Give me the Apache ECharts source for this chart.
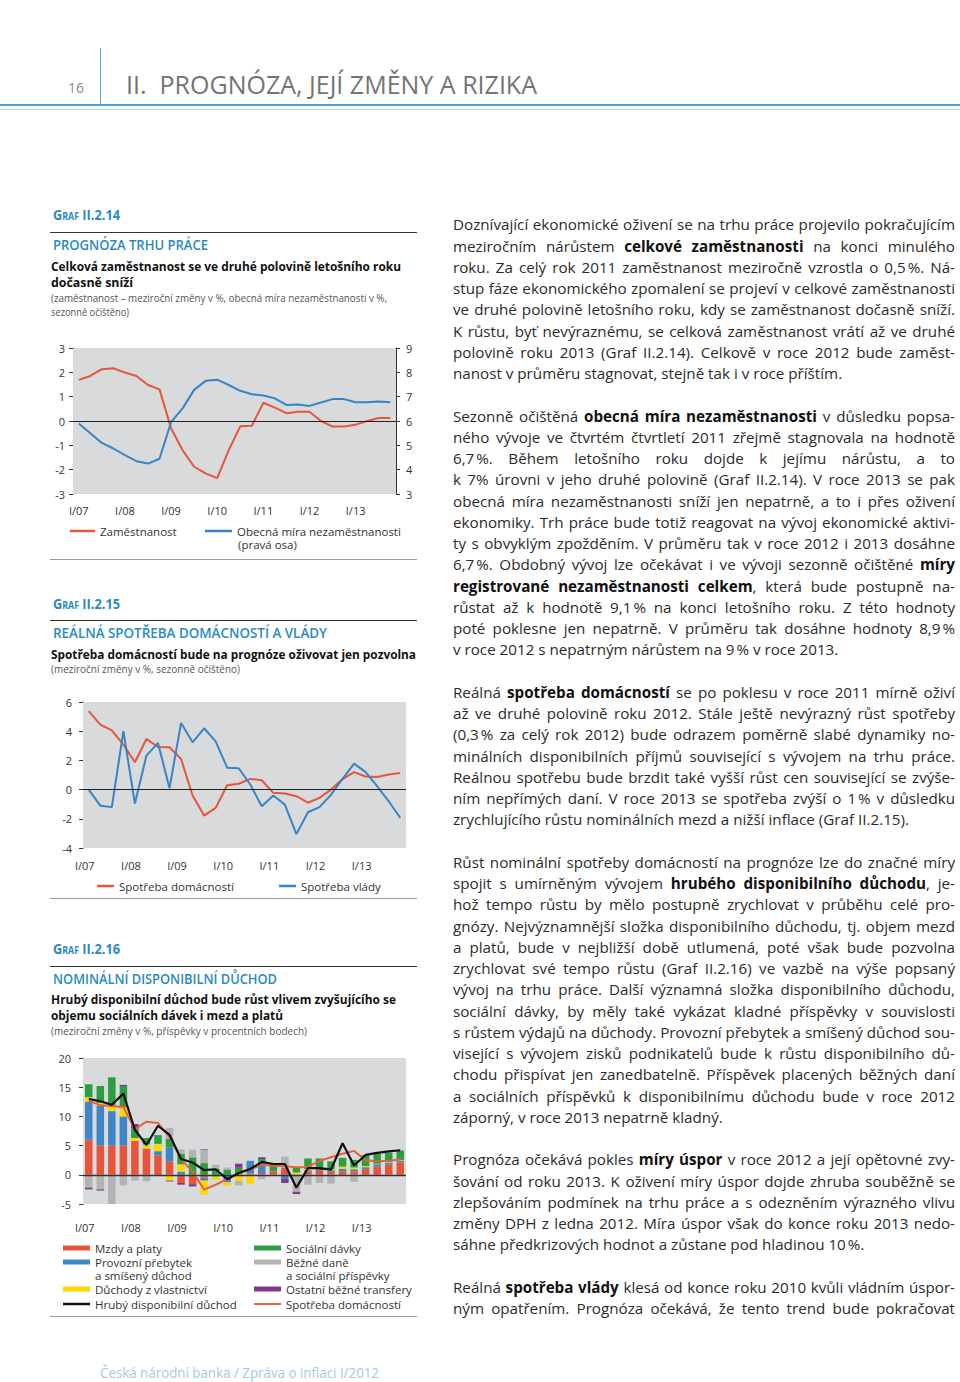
<!DOCTYPE html>
<html><head><meta charset="utf-8">
<script src="https://cdn.jsdelivr.net/npm/echarts@6/dist/echarts.min.js"></script>
<style>
html,body{margin:0;padding:0;background:#fff;}
#page{position:relative;width:960px;height:1382px;overflow:hidden;font-family:'Open Sans',sans-serif;color:#222;}
.t{position:absolute;white-space:nowrap;transform-origin:0 50%;}
.ln{position:absolute;left:453px;width:502px;line-height:21.25px;font-size:15.2px;color:#2b2b2b;text-align:justify;text-align-last:justify;}
.ln.last{text-align-last:left;}
.ln b{font-weight:700;color:#111;}
.chart{position:absolute;left:0;width:440px;}
</style></head>
<body>
<div id="page">
  <div id="c1" class="chart" style="top:330px;height:232px;"></div>
  <div id="c2" class="chart" style="top:690px;height:206px;"></div>
  <div id="c3" class="chart" style="top:1040px;height:274px;"></div>
</div>
<script>
// ---------------- DATA ----------------
const quarters = ['I/07','II/07','III/07','IV/07','I/08','II/08','III/08','IV/08','I/09','II/09','III/09','IV/09',
  'I/10','II/10','III/10','IV/10','I/11','II/11','III/11','IV/11','I/12','II/12','III/12','IV/12','I/13','II/13','III/13','IV/13'];
const forecastStart = 'IV/11';

// Graf II.2.14
const employment = [1.69,1.85,2.13,2.17,1.99,1.85,1.48,1.30,-0.30,-1.20,-1.88,-2.15,-2.35,-1.20,-0.22,-0.20,0.75,0.55,0.32,0.38,0.38,0.00,-0.23,-0.23,-0.15,0.00,0.12,0.12];
const unemployment = [5.90,5.50,5.10,4.87,4.60,4.35,4.25,4.45,5.95,6.52,7.28,7.65,7.70,7.48,7.24,7.10,7.05,6.93,6.66,6.68,6.62,6.76,6.90,6.90,6.77,6.77,6.80,6.77];

// Graf II.2.15
const householdCons = [5.37,4.45,4.06,3.08,1.87,3.47,2.92,2.90,2.10,-0.40,-1.78,-1.25,0.30,0.40,0.73,0.64,-0.22,-0.27,-0.45,-0.90,-0.57,0.00,0.72,1.20,0.90,0.87,1.03,1.14];
const governmentCons = [0.00,-1.10,-1.20,4.00,-0.95,2.33,3.20,0.10,4.56,3.24,4.20,3.30,1.50,1.46,0.35,-1.14,-0.40,-1.03,-3.05,-1.55,-1.20,-0.35,0.73,1.78,1.20,0.23,-0.80,-1.93];

// Graf II.2.16 (contributions, p.p.)
const wages     = [6.0,5.0,5.0,5.0,5.8,4.5,3.3,2.3,-1.4,-1.6,-0.5,0,0,0.3,0.2,0.3,0.6,1.2,0,0.6,0.8,0.55,0.6,0.6,1.0,1.4,1.75,2.1];
const surplus   = [6.5,6.8,5.9,5.0,0,0,0.75,2.35,0.55,0,-0.5,-0.3,-1.3,0,2.2,2.0,0,-0.7,-0.3,0.2,0.2,0.25,0.4,0.35,0.3,0.4,0.35,0.35];
const property  = [0.8,0.5,0.8,1.6,0.5,0.7,1.25,-1.0,1.25,0,-2.4,-0.6,-0.6,-1.1,-1.6,0,0,0,0.4,0.2,0.2,0.2,0.4,0.3,0.2,0.1,0.1,0.1];
const benefits  = [2.2,2.9,5.0,3.6,1.6,1.1,1.5,1.5,1.8,3.0,2.0,1.1,0.9,0.9,0,0.4,1.4,0,0.8,1.8,1.6,1.3,1.5,1.3,1.9,1.8,1.6,1.6];
const taxes     = [-2.2,-2.5,-5.0,-1.8,-1.0,-1.1,0,1.9,0.75,1.3,2.3,0.6,0.35,-0.7,0,-0.75,-0.2,1.9,-2.6,-1.7,-1.4,-1.5,0,-1.2,0,0,0,0];
const transfers = [-0.3,-0.2,0,0.2,0.8,0,0,-0.15,-0.3,-0.4,0.1,0,0,0.7,0,0.3,0,-0.7,-0.4,0,0,0,0,0,0,0,0,0];
const grossIncome = [13.0,12.6,12.0,13.9,7.7,5.1,8.4,6.85,2.7,2.1,0.8,0.95,-0.75,0.3,1.0,2.2,1.85,1.85,-2.2,1.15,1.15,0.9,5.4,1.6,3.4,3.75,4.0,4.2];
const nominalCons = [12.7,11.9,11.8,11.6,7.8,9.1,8.85,6.5,2.7,0.55,-2.55,-1.7,-0.75,0.3,0.9,1.7,1.55,1.45,1.3,1.35,2.4,3.0,3.6,4.1,2.5,2.3,2.4,2.6];

// ---------------- PAGE TEXT ----------------
const page = document.getElementById('page');
function box(x, y, w, h, color){const d=document.createElement('div');d.style.cssText=`position:absolute;left:${x}px;top:${y}px;width:${w}px;height:${h}px;background:${color}`;page.appendChild(d);}
function txt(s, x, yc, size, weight, color, w, extra){
  const d=document.createElement('div'); d.className='t';
  const lh=Math.round(size*1.4);
  d.style.cssText+=`left:${x}px;top:${yc-lh/2}px;font-size:${size}px;line-height:${lh}px;font-weight:${weight};color:${color};`+(extra||'');
  d.innerHTML=s; page.appendChild(d);
  if(w){const nat=d.getBoundingClientRect().width; if(nat>0) d.style.transform=`scaleX(${w/nat})`;}
  return d;
}
// header
box(100,48,1,57,'#5aa7d0');
box(0,104,960,1.5,'#4f9fcc');
box(0,108.5,960,1.5,'#a6d8e8');
txt('16',68,87,15,400,'#8a8a8a',16);
txt('II.&nbsp; PROGNÓZA, JEJÍ ZMĚNY A RIZIKA',126,84,25,400,'#747474',411);

const BLUE='#2a8ac2';
const sc="font-variant:small-caps;";
// Graf II.2.14
txt('Graf II.2.14',53,215,14.5,700,BLUE,67,sc);
box(50,232,367,1,'#333');
txt('PROGNÓZA TRHU PRÁCE',53,245,14.5,600,BLUE,155);
txt('Celková zaměstnanost se ve druhé polovině letošního roku',51,267,12.5,700,'#111',350);
txt('dočasně sníží',51,283,12.5,700,'#111',82);
txt('(zaměstnanost – meziroční změny v %, obecná míra nezaměstnanosti v %,',51,298,10.5,400,'#555',336);
txt('sezonně očištěno)',51,312,10.5,400,'#555',78);
box(50,559,367,1,'#9a9a9a');
// Graf II.2.15
txt('Graf II.2.15',53,604,14.5,700,BLUE,67,sc);
box(50,620,367,1,'#333');
txt('REÁLNÁ SPOTŘEBA DOMÁCNOSTÍ A VLÁDY',53,633,14.5,600,BLUE,274);
txt('Spotřeba domácností bude na prognóze oživovat jen pozvolna',51,655,12.5,700,'#111',365);
txt('(meziroční změny v %, sezonně očištěno)',51,669,10.5,400,'#555',189);
box(50,898,367,1,'#9a9a9a');
// Graf II.2.16
txt('Graf II.2.16',53,949,14.5,700,BLUE,67,sc);
box(50,966,367,1,'#333');
txt('NOMINÁLNÍ DISPONIBILNÍ DŮCHOD',53,979,14.5,600,BLUE,224);
txt('Hrubý disponibilní důchod bude růst vlivem zvyšujícího se',51,1000,12.5,700,'#111',345);
txt('objemu sociálních dávek i mezd a platů',51,1016,12.5,700,'#111',232);
txt('(meziroční změny v %, příspěvky v procentních bodech)',51,1031,10.5,400,'#555',256);
box(50,1316,367,1,'#9a9a9a');
// footer
txt('Česká národní banka / Zpráva o inflaci I/2012',100,1373,14,400,'#9fcbe2',279);

// right column
const NS='&#8239;';
const paras=[
 {start:0, lines:[
  'Doznívající ekonomické oživení se na trhu práce projevilo pokračujícím',
  'meziročním nárůstem <b>celkové zaměstnanosti</b> na konci minulého',
  'roku. Za celý rok 2011 zaměstnanost meziročně vzrostla o 0,5'+NS+'%. Ná-',
  'stup fáze ekonomického zpomalení se projeví v celkové zaměstnanosti',
  've druhé polovině letošního roku, kdy se zaměstnanost dočasně sníží.',
  'K růstu, byť nevýraznému, se celková zaměstnanost vrátí až ve druhé',
  'polovině roku 2013 (Graf II.2.14). Celkově v roce 2012 bude zaměst-',
  'nanost v průměru stagnovat, stejně tak i v roce příštím.']},
 {start:9, lines:[
  'Sezonně očištěná <b>obecná míra nezaměstnanosti</b> v důsledku popsa-',
  'ného vývoje ve čtvrtém čtvrtletí 2011 zřejmě stagnovala na hodnotě',
  '6,7'+NS+'%. Během letošního roku dojde k jejímu nárůstu, a to',
  'k 7% úrovni v jeho druhé polovině (Graf II.2.14). V roce 2013 se pak',
  'obecná míra nezaměstnanosti sníží jen nepatrně, a to i přes oživení',
  'ekonomiky. Trh práce bude totiž reagovat na vývoj ekonomické aktivi-',
  'ty s obvyklým zpožděním. V průměru tak v roce 2012 i 2013 dosáhne',
  '6,7'+NS+'%. Obdobný vývoj lze očekávat i ve vývoji sezonně očištěné <b>míry</b>',
  '<b>registrované nezaměstnanosti celkem</b>, která bude postupně na-',
  'růstat až k hodnotě 9,1'+NS+'% na konci letošního roku. Z této hodnoty',
  'poté poklesne jen nepatrně. V průměru tak dosáhne hodnoty 8,9'+NS+'%',
  'v roce 2012 s nepatrným nárůstem na 9'+NS+'% v roce 2013.']},
 {start:22, lines:[
  'Reálná <b>spotřeba domácností</b> se po poklesu v roce 2011 mírně oživí',
  'až ve druhé polovině roku 2012. Stále ještě nevýrazný růst spotřeby',
  '(0,3'+NS+'% za celý rok 2012) bude odrazem poměrně slabé dynamiky no-',
  'minálních disponibilních příjmů související s vývojem na trhu práce.',
  'Reálnou spotřebu bude brzdit také vyšší růst cen související se zvýše-',
  'ním nepřímých daní. V roce 2013 se spotřeba zvýší o 1'+NS+'% v důsledku',
  'zrychlujícího růstu nominálních mezd a nižší inflace (Graf II.2.15).']},
 {start:30, lines:[
  'Růst nominální spotřeby domácností na prognóze lze do značné míry',
  'spojit s umírněným vývojem <b>hrubého disponibilního důchodu</b>, je-',
  'hož tempo růstu by mělo postupně zrychlovat v průběhu celé pro-',
  'gnózy. Nejvýznamnější složka disponibilního důchodu, tj. objem mezd',
  'a platů, bude v nejbližší době utlumená, poté však bude pozvolna',
  'zrychlovat své tempo růstu (Graf II.2.16) ve vazbě na výše popsaný',
  'vývoj na trhu práce. Další významná složka disponibilního důchodu,',
  'sociální dávky, by měly také vykázat kladné příspěvky v souvislosti',
  's růstem výdajů na důchody. Provozní přebytek a smíšený důchod sou-',
  'visející s vývojem zisků podnikatelů bude k růstu disponibilního dů-',
  'chodu přispívat jen zanedbatelně. Příspěvek placených běžných daní',
  'a sociálních příspěvků k disponibilnímu důchodu bude v roce 2012',
  'záporný, v roce 2013 nepatrně kladný.']},
 {start:44, lines:[
  'Prognóza očekává pokles <b>míry úspor</b> v roce 2012 a její opětovné zvy-',
  'šování od roku 2013. K oživení míry úspor dojde zhruba souběžně se',
  'zlepšováním podmínek na trhu práce a s odezněním výrazného vlivu',
  'změny DPH z ledna 2012. Míra úspor však do konce roku 2013 nedo-',
  'sáhne předkrizových hodnot a zůstane pod hladinou 10'+NS+'%.']},
 {start:50, cont:true, lines:[
  'Reálná <b>spotřeba vlády</b> klesá od konce roku 2010 kvůli vládním úspor-',
  'ným opatřením. Prognóza očekává, že tento trend bude pokračovat']}
];
paras.forEach(p=>{
  p.lines.forEach((l,i)=>{
    const d=document.createElement('div');
    const isLast=(i===p.lines.length-1)&&!p.cont;
    d.className='ln'+(isLast?' last':'');
    const yc=225+21.25*(p.start+i);
    d.style.top=(yc-10.625)+'px';
    d.innerHTML=l; page.appendChild(d);
    let fs=15.2; let guard=0;
    while(d.offsetHeight>30 && guard<40){fs-=0.2; d.style.fontSize=fs+'px'; guard++;}
  });
});

// ---------------- CHARTS ----------------
const F="'Open Sans', sans-serif";
const AX='#333';
const shadeFrom = quarters.indexOf(forecastStart)-0.5, shadeTo = quarters.length-0.5;
function shadeSeries(){
  return {type:'line', xAxisIndex:1, yAxisIndex:0, data:[[shadeFrom,0],[shadeTo,0]], showSymbol:false, symbol:'none',
    lineStyle:{opacity:0}, silent:true, z:0, animation:false,
    markArea:{silent:true, itemStyle:{color:'#d9dadc'}, data:[[{xAxis:shadeFrom},{xAxis:shadeTo}]]}};
}
function catAxis(margin, pad){
  return {type:'category', data:quarters, boundaryGap:true, axisLine:{show:false}, axisTick:{show:false}, splitLine:{show:false},
    axisLabel:{interval:3, margin:margin, fontSize:11, color:AX, fontFamily:F, padding:pad||0}};
}
function hiddenX(){return {type:'value', min:shadeFrom, max:shadeTo, show:false};}
function valAxis(min,max,interval,pos,margin){
  return {type:'value', min:min, max:max, interval:interval, position:pos,
    axisLine:{show:true, lineStyle:{color:AX, width:1}}, axisTick:{show:true, length:4, lineStyle:{color:AX}},
    splitLine:{show:false}, axisLabel:{margin:margin, fontSize:11, color:AX, fontFamily:F}};
}
function lg(name, left, yc, w, h, fmt){
  const o={data:[name], left:left, top:yc-6, padding:0, itemWidth:w, itemHeight:h, icon:'rect', itemGap:0, selectedMode:false,
    itemStyle:{borderWidth:0}, textStyle:{fontFamily:F, fontSize:11.5, color:AX, lineHeight:12}};
  if(fmt) o.formatter=fmt;
  return o;
}
function sub(text,x,y){return {type:'text', x:x, y:y, style:{text:text, fontSize:11.5, fontFamily:F, fill:AX, lineHeight:11, verticalAlign:'middle'}};}
function zeroLine(color,width){return {silent:true, symbol:'none', label:{show:false}, lineStyle:{color:color, width:width, type:'solid'}, data:[{yAxis:0}]};}
const RED='#e4573b', LBLUE='#3a84c4';

// Chart 1
const c1=echarts.init(document.getElementById('c1'),null,{renderer:'svg'});
c1.setOption({
  animation:false, textStyle:{fontFamily:F},
  grid:{left:73, top:18, width:323, height:146, outerBoundsMode:'none'},
  xAxis:[catAxis(11), hiddenX()],
  yAxis:[valAxis(-3,3,1,'left',8), valAxis(3,9,1,'right',10)],
  legend:[lg('Zaměstnanost',70,201,25,2.5), lg('Obecná míra nezaměstnanosti',205,201,27,2.5)],
  graphic:[sub('(pravá osa)',238,214)],
  series:[shadeSeries(),
    {name:'Zaměstnanost', type:'line', data:employment, yAxisIndex:0, symbol:'none', color:RED, lineStyle:{width:2, color:RED}, z:3,
      markLine:zeroLine('#222',1)},
    {name:'Obecná míra nezaměstnanosti', type:'line', data:unemployment, yAxisIndex:1, symbol:'none', color:LBLUE, lineStyle:{width:2, color:LBLUE}, z:3}]
});

// Chart 2
const c2=echarts.init(document.getElementById('c2'),null,{renderer:'svg'});
c2.setOption({
  animation:false, textStyle:{fontFamily:F},
  grid:{left:83, top:12, width:323, height:146, outerBoundsMode:'none'},
  xAxis:[catAxis(12,[0,8,0,0]), hiddenX()],
  yAxis:[valAxis(-4,6,2,'left',11)],
  legend:[lg('Spotřeba domácností',97,196,17,2.5), lg('Spotřeba vlády',279,196,17,2.5)],
  series:[shadeSeries(),
    {name:'Spotřeba domácností', type:'line', data:householdCons, symbol:'none', color:RED, lineStyle:{width:2, color:RED}, z:3},
    {name:'Spotřeba vlády', type:'line', data:governmentCons, symbol:'none', color:LBLUE, lineStyle:{width:2, color:LBLUE}, z:3,
      markLine:zeroLine('#222',1)}]
});

// Chart 3
const bars=[
  ['Mzdy a platy', wages, '#e6553a'],
  ['Provozní přebytek a smíšený důchod', surplus, '#3e86c6'],
  ['Důchody z vlastnictví', property, '#fcd700'],
  ['Sociální dávky', benefits, '#2b9f3f'],
  ['Běžné daně a sociální příspěvky', taxes, '#b3b3b3'],
  ['Ostatní běžné transfery', transfers, '#7f3a8c']
].map(([n,d,c])=>({name:n, type:'bar', data:d, stack:'c', stackStrategy:'samesign', barWidth:'65%', color:c, itemStyle:{color:c}, z:2}));
const c3=echarts.init(document.getElementById('c3'),null,{renderer:'svg'});
c3.setOption({
  animation:false, textStyle:{fontFamily:F},
  grid:{left:83, top:18, width:323, height:146, outerBoundsMode:'none'},
  xAxis:[catAxis(18,[0,8,0,0]), hiddenX()],
  yAxis:[valAxis(-5,20,5,'left',12)],
  legend:[
    lg('Mzdy a platy',63,208,27,5),
    lg('Provozní přebytek a smíšený důchod',63,222,27,5,'Provozní přebytek'),
    lg('Důchody z vlastnictví',63,249,27,5),
    lg('Hrubý disponibilní důchod',63,264,27,2.5),
    lg('Sociální dávky',254,208,27,5),
    lg('Běžné daně a sociální příspěvky',254,222,27,5,'Běžné daně'),
    lg('Ostatní běžné transfery',254,249,27,5),
    lg('Spotřeba domácností',254,264,27,2)
  ],
  graphic:[sub('a smíšený důchod',95,235.5), sub('a sociální příspěvky',286,235.5)],
  series:[shadeSeries()].concat(bars).concat([
    {name:'Spotřeba domácností', type:'line', data:nominalCons, symbol:'none', color:'#e8613f', lineStyle:{width:2, color:'#e8613f'}, z:4},
    {name:'Hrubý disponibilní důchod', type:'line', data:grossIncome, symbol:'none', color:'#111', lineStyle:{width:2.2, color:'#111'}, z:5,
      markLine:zeroLine('#333',1.3)}
  ])
});
</script>
</body></html>
